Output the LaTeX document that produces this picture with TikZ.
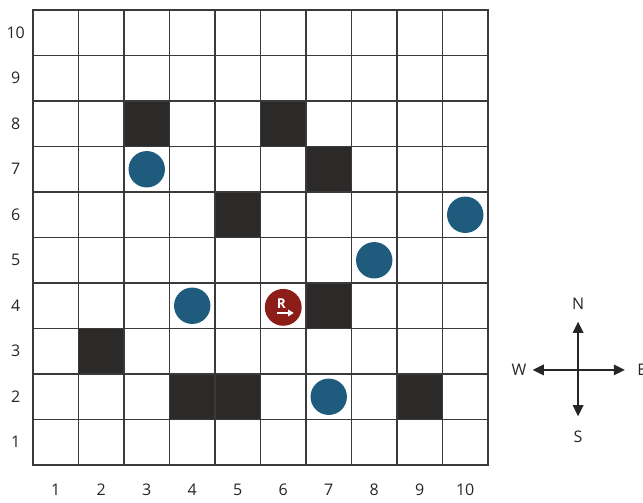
\documentclass[tikz,border=0pt]{standalone}
\usepackage{fontspec}
\setmainfont{Open Sans}
\usetikzlibrary{arrows.meta}

\definecolor{wallgray}{HTML}{2B2A28}
\definecolor{goalblue}{HTML}{1E5B7D}
\definecolor{robotred}{HTML}{8C1D18}
\definecolor{linegray}{HTML}{3A3A3A}

\begin{document}
\begin{tikzpicture}[
        cell/.style={rectangle, draw=linegray, line width=1.1pt, minimum size=1cm, inner sep=0pt},
        wall/.style={cell, fill=wallgray},
        goal/.style={circle, fill=goalblue, minimum size=0.8cm, inner sep=0pt},
        robot/.style={circle, fill=robotred, minimum size=0.81cm, inner sep=0pt},
        numlabel/.style={font=\fontsize{10}{12}\selectfont, text=black!85},
        compass/.style={line width=1.3pt, draw=black!85, -{Triangle[length=7pt,width=6.5pt]}}
    ]
    \useasboundingbox (-0.725,-0.813) rectangle (13.407,10.22);

    % Grid of cells and axis numbers
    \foreach \c in {1,...,10} {
        \foreach \r in {1,...,10} {
            \node[cell] (c\c-\r) at (\c-0.5,\r-0.5) {};
        }
        \node[numlabel] (col\c) at (\c-0.5,-0.55) {\c};
        \node[numlabel] (row\c) at (-0.38,\c-0.5) {\c};
    }

    % Walls
    \foreach \c/\r in {3/8, 6/8, 7/7, 5/6, 7/4, 2/3, 4/2, 5/2, 9/2} {
        \node[wall] (w\c-\r) at (c\c-\r) {};
    }

    % Targets
    \foreach \c/\r in {3/7, 10/6, 8/5, 4/4, 7/2} {
        \node[goal] (g\c-\r) at (c\c-\r) {};
    }

    % Robot facing east
    \node[robot] (robot) at ([yshift=-1pt]c6-4) {};
    \node[text=white, font=\fontsize{8.5}{9}\selectfont\bfseries, inner sep=0pt] (rname) at ([xshift=-1.2pt,yshift=2.6pt]robot.center) {R};
    \coordinate (rtail) at ([xshift=-3.6pt,yshift=-3.5pt]robot.center);
    \coordinate (rhead) at ([xshift=6.6pt,yshift=-3.5pt]robot.center);
    \draw[white, line width=0.9pt, -{Triangle[length=3.5pt,width=4pt]}] (rtail) -- (rhead);

    % Compass
    \coordinate (O) at (11.98,2.09);
    \coordinate (tipN) at ([yshift=1.06cm]O);
    \coordinate (tipS) at ([yshift=-1.02cm]O);
    \coordinate (tipW) at ([xshift=-1.0cm]O);
    \coordinate (tipE) at ([xshift=1.03cm]O);
    \draw[compass] (O) -- (tipN);
    \draw[compass] (O) -- (tipS);
    \draw[compass] (O) -- (tipW);
    \draw[compass] (O) -- (tipE);
    \node[numlabel] (N) at ([yshift=1.46cm]O) {N};
    \node[numlabel] (S) at ([yshift=-1.46cm]O) {S};
    \node[numlabel] (W) at ([xshift=-1.3cm]O) {W};
    \node[numlabel] (E) at ([xshift=1.4cm]O) {E};
\end{tikzpicture}
\end{document}
